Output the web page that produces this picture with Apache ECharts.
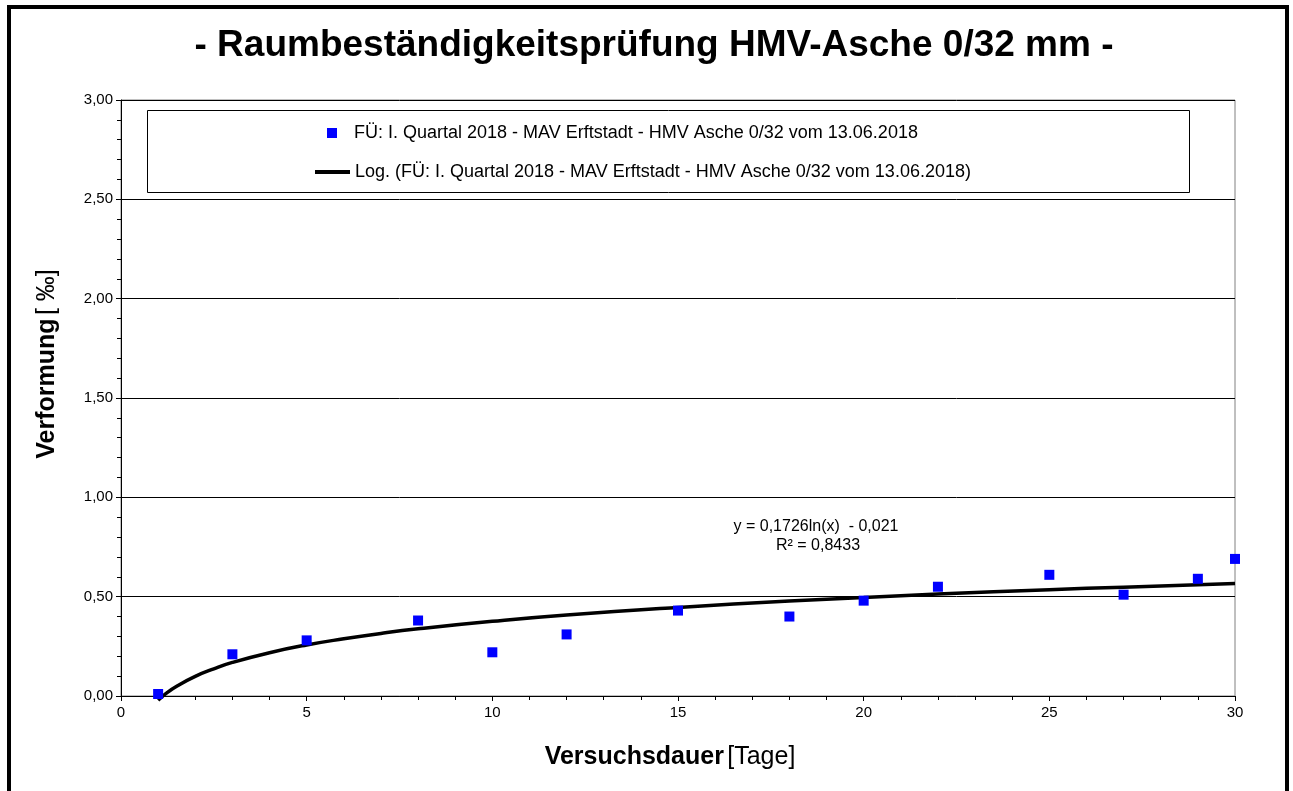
<!DOCTYPE html>
<html><head><meta charset="utf-8">
<script src="https://cdn.jsdelivr.net/npm/echarts@6/dist/echarts.min.js"></script>
<style>html,body{margin:0;padding:0;background:#fff}#c{width:1293px;height:791px}</style>
</head><body><div id="c"></div>
<script>
// measured points
const days = [1, 3, 5, 8, 10, 12, 15, 18, 20, 22, 25, 27, 29, 30];
const deformation = [0.01, 0.21, 0.28, 0.38, 0.22, 0.31, 0.43, 0.40, 0.48, 0.55, 0.61, 0.51, 0.59, 0.69];
// logarithmic trend line
const trendDays = [1, 1.25, 1.5, 2, 2.5, 3, 4, 5, 6, 7, 8, 10, 12, 15, 18, 20, 22, 25, 27, 30];
const trendValues = [-0.021, 0.018, 0.049, 0.099, 0.137, 0.169, 0.218, 0.257, 0.288, 0.315, 0.338, 0.376, 0.408, 0.446, 0.478, 0.496, 0.513, 0.535, 0.548, 0.566];
const seriesName = 'FÜ: I. Quartal 2018 - MAV Erftstadt - HMV Asche 0/32 vom 13.06.2018';
const trendName = 'Log. (FÜ: I. Quartal 2018 - MAV Erftstadt - HMV Asche 0/32 vom 13.06.2018)';
const titleText = '- Raumbeständigkeitsprüfung HMV-Asche 0/32 mm -';
const equationLines = ['y = 0,1726ln(x)  - 0,021', 'R² = 0,8433'];

const F = '"Liberation Sans", Arial, sans-serif';
const chart = echarts.init(document.getElementById('c'), null, {renderer: 'canvas'});
chart.setOption({
  animation: false,
  backgroundColor: '#fff',
  textStyle: {fontFamily: F},
  grid: {left: 121, right: 58, top: 100, bottom: 95, show: true, borderColor: '#808080', borderWidth: 1, backgroundColor: 'transparent'},
  xAxis: {
    type: 'value', min: 0, max: 30, interval: 5,
    axisLine: {show: true, onZero: false, lineStyle: {color: '#000', width: 1}},
    axisTick: {show: true, inside: false, length: 5, lineStyle: {color: '#000'}},
    minorTick: {show: true, splitNumber: 5, length: 4, lineStyle: {color: '#000'}},
    splitLine: {show: false},
    axisLabel: {margin: 9, color: '#000', fontSize: 15, fontFamily: F}
  },
  yAxis: {
    type: 'value', min: 0, max: 3, interval: 0.5,
    axisLine: {show: true, lineStyle: {color: '#000', width: 1}},
    axisTick: {show: true, inside: false, length: 5, lineStyle: {color: '#000'}},
    minorTick: {show: true, splitNumber: 5, length: 4, lineStyle: {color: '#000'}},
    splitLine: {show: true, lineStyle: {color: '#000', width: 1}},
    axisLabel: {margin: 8, color: '#000', fontSize: 15, fontFamily: F,
      formatter: v => v.toFixed(2).replace('.', ',')}
  },
  legend: [
    {data: [{name: seriesName, icon: 'rect'}], left: 327, top: 124, padding: 0, itemWidth: 10, itemHeight: 10,
     textStyle: {fontSize: 18, color: '#000', fontFamily: F, padding: [0, 0, 0, 12]}, selectedMode: false},
    {data: [{name: trendName, icon: 'rect'}], left: 315, top: 163, padding: 0, itemWidth: 35, itemHeight: 4,
     itemStyle: {color: '#000', borderWidth: 0},
     textStyle: {fontSize: 18, color: '#000', fontFamily: F, lineHeight: 18, padding: [0, 0, 0, 0]}, selectedMode: false}
  ],
  series: [
    {name: trendName, type: 'line', data: trendDays.map((d, i) => [d, trendValues[i]]),
     smooth: true, symbol: 'none', clip: false, z: 2,
     lineStyle: {color: '#000', width: 3.5}, itemStyle: {color: '#000'}},
    {name: seriesName, type: 'scatter', data: days.map((d, i) => [d, deformation[i]]),
     symbol: 'rect', symbolSize: 10, clip: false, z: 3, itemStyle: {color: '#0000ff', opacity: 1}}
  ],
  graphic: [
    {type: 'rect', shape: {x: 9, y: 7, width: 1278, height: 800}, style: {fill: 'none', stroke: '#000', lineWidth: 4}, z: 0, silent: true},
    {type: 'rect', shape: {x: 147.5, y: 110.5, width: 1042, height: 82}, style: {fill: '#fff', stroke: '#000', lineWidth: 1}, z: 1, silent: true},
    {type: 'text', x: 654, y: 46, style: {text: titleText, font: 'bold 37px ' + F, fill: '#000', textAlign: 'center', textVerticalAlign: 'middle'}},
    {type: 'text', x: 816, y: 527, style: {text: equationLines[0], font: '16px ' + F, fill: '#000', textAlign: 'center', textVerticalAlign: 'middle'}, z: 5},
    {type: 'text', x: 818, y: 546, style: {text: equationLines[1], font: '16px ' + F, fill: '#000', textAlign: 'center', textVerticalAlign: 'middle'}, z: 5},
    {type: 'text', x: 670, y: 757, style: {text: '{b|Versuchsdauer} {n|[Tage]}', textAlign: 'center', textVerticalAlign: 'middle',
      rich: {b: {font: 'bold 25px ' + F, fill: '#000'}, n: {font: '25px ' + F, fill: '#000'}}}},
    {type: 'text', x: 47, y: 364, rotation: Math.PI / 2, style: {text: '{b|Verformung} {n|[ ‰]}', textAlign: 'center', textVerticalAlign: 'middle',
      rich: {b: {font: 'bold 25px ' + F, fill: '#000'}, n: {font: '25px ' + F, fill: '#000'}}}}
  ]
});
</script></body></html>
